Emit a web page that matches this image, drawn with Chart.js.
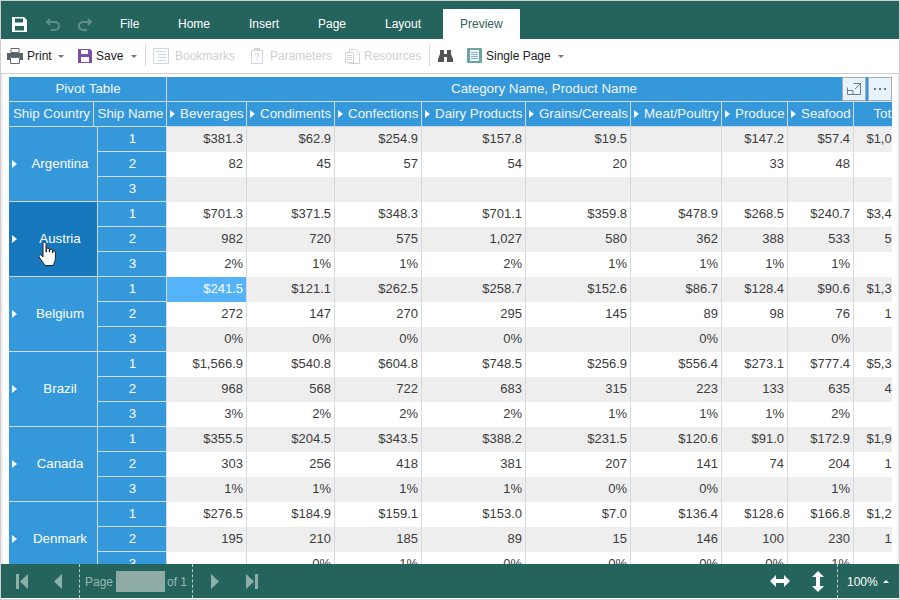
<!DOCTYPE html>
<html>
<head>
<meta charset="utf-8">
<title>Pivot Table Preview</title>
<script src="https://cdn.jsdelivr.net/npm/chart.js@4"></script>
<style>
  html, body { margin: 0; padding: 0; background: #fff; }
  body { width: 900px; height: 600px; position: relative; overflow: hidden; font: 12px "Liberation Sans", Arial, sans-serif; }
  .abs { position: absolute; white-space: nowrap; }
  #frame { left: 0; top: 0; width: 898px; height: 598px; border: 1px solid #cfcfcf; pointer-events: none; z-index: 9; }
  #topbar { left: 0; top: 1px; width: 900px; height: 38px; background: #25645c; }
  #tab { left: 443px; top: 9px; width: 77px; height: 30px; background: #fff; }
  .menu { top: 17px; color: #fff; line-height: 14px; }
  #toolbar { left: 0; top: 39px; width: 900px; height: 34px; background: #fff; border-bottom: 1px solid #cdcdcd; }
  .tool { top: 49px; color: #222; line-height: 14px; }
  .off { color: #d2ced6; }
  .sep { top: 45px; width: 1px; height: 21px; background: #d8d8d8; }
  .strip { top: 74px; height: 490px; width: 2px; background: #eeeeee; }
  #tableBox { left: 9px; top: 77px; width: 883px; height: 487px; overflow: hidden; }
  #pivot { display: block; }
  #pager { left: 0; top: 564px; width: 900px; height: 34px; background: #25645c; z-index: 5; }
  .pg { top: 575px; color: #9cb6b1; line-height: 14px; z-index: 6; }
  .dash { top: 564px; height: 34px; width: 0; border-left: 1px dashed #b5c9c5; z-index: 6; }
  #pageInput { left: 116px; top: 571px; width: 49px; height: 21px; background: #8eaba6; z-index: 6; }
  svg.abs { z-index: 6; overflow: visible; }
  .corner { top: 77px; width: 22px; height: 22px; background: #e8f2fa; border: 1px solid #9fb0bb; z-index: 4; }
</style>
</head>
<body>
<div class="abs" id="topbar"></div>
<div class="abs" id="tab"></div>
<svg class="abs" style="left:12px;top:17px" width="15" height="15" viewBox="0 0 15 15"><path fill="#fff" d="M0 0h12l3 3v12H0z"/><path fill="#25645c" d="M3 1.500h8v4H3zM3 9h9v4.500H3z"/></svg>
<svg class="abs" style="left:45px;top:17px" width="16" height="15" viewBox="0 0 16 15"><path fill="none" stroke="#5f8f88" stroke-width="2" d="M5 2L2 5l3 3M2 5h8a4 4 0 0 1 0 8H6"/></svg>
<svg class="abs" style="left:77px;top:17px" width="16" height="15" viewBox="0 0 16 15"><path fill="none" stroke="#5f8f88" stroke-width="2" d="M11 2l3 3-3 3M14 5H6a4 4 0 0 0 0 8h4"/></svg>
<div class="abs menu" style="left:120px">File</div>
<div class="abs menu" style="left:178px">Home</div>
<div class="abs menu" style="left:249px">Insert</div>
<div class="abs menu" style="left:318px">Page</div>
<div class="abs menu" style="left:385px">Layout</div>
<div class="abs menu" style="left:460px;color:#2f5f5a">Preview</div>

<div class="abs" id="toolbar"></div>
<svg class="abs" style="left:7px;top:48px" width="16" height="16" viewBox="0 0 16 16"><path fill="#fff" stroke="#667" d="M4 .5h8v4H4z"/><path fill="#59636b" d="M0 5h16v7h-3V9H3v3H0z"/><path fill="#fff" stroke="#667" d="M3.500 9.500h9v6h-9z"/></svg>
<div class="abs tool" style="left:27px">Print</div>
<svg class="abs" style="left:58px;top:55px" width="6" height="3"><path fill="#777" d="M0 0h6L3 3z"/></svg>
<svg class="abs" style="left:78px;top:49px" width="14" height="14" viewBox="0 0 14 14"><path fill="#7d4fa6" d="M0 0h12l2 2v12H0z"/><path fill="#fff" d="M3 1h7v4H3zM3 8h8v5H3z"/></svg>
<div class="abs tool" style="left:96px">Save</div>
<svg class="abs" style="left:131px;top:55px" width="6" height="3"><path fill="#777" d="M0 0h6L3 3z"/></svg>
<div class="abs sep" style="left:145px"></div>
<svg class="abs" style="left:153px;top:48px" width="16" height="16" viewBox="0 0 16 16"><path fill="#fff" stroke="#d5d5d8" d="M.5.5h15v15H.5z"/><path stroke="#c9d7e8" d="M3 3.500h10M5 6.500h8M5 9.500h8M5 12.500h8"/></svg>
<div class="abs tool off" style="left:175px">Bookmarks</div>
<svg class="abs" style="left:251px;top:48px" width="12" height="16" viewBox="0 0 12 16"><path fill="#fff" stroke="#d5d5d8" d="M.5 2.500h11v13H.5z"/><path fill="#d5d5d8" d="M3 0h6v3H3z"/><text x="3" y="13" font-size="10" fill="#c9d7e8">?</text></svg>
<div class="abs tool off" style="left:270px">Parameters</div>
<svg class="abs" style="left:345px;top:49px" width="15" height="15" viewBox="0 0 15 15"><path fill="#fff" stroke="#d5d5d8" d="M4.500.5h6l4 4v10h-10z"/><path fill="#fff" stroke="#d5d5d8" d="M.5 3.500h8v10h-8z"/><path stroke="#d5d5d8" d="M2 6.500h5M2 8.500h5M2 10.500h5"/></svg>
<div class="abs tool off" style="left:364px">Resources</div>
<div class="abs sep" style="left:429px"></div>
<svg class="abs" style="left:438px;top:50px" width="15" height="12" viewBox="0 0 15 12"><path fill="#555" d="M2 0h4v4h3V0h4v4l2 5v3H9V7H6v5H0V9l2-5z"/></svg>
<svg class="abs" style="left:467px;top:48px" width="15" height="15" viewBox="0 0 15 15"><path fill="#70a59d" d="M1 0h13a1 1 0 0 1 1 1v13a1 1 0 0 1-1 1H1a1 1 0 0 1-1-1V1a1 1 0 0 1 1-1z"/><path fill="#eef5f6" d="M3 2h9v11H3z"/><path stroke="#8fb4cf" d="M4 4.500h7M4 6.500h7M4 8.500h7M4 10.500h7"/></svg>
<div class="abs tool" style="left:486px">Single Page</div>
<svg class="abs" style="left:558px;top:55px" width="6" height="3"><path fill="#777" d="M0 0h6L3 3z"/></svg>

<div class="abs strip" style="left:1px"></div>
<div class="abs strip" style="left:897px"></div>
<div class="abs" id="tableBox"><canvas id="pivot" width="883" height="500"></canvas></div>

<div class="abs corner" style="left:842px"></div>
<svg class="abs" style="left:847px;top:83px" width="14" height="12" viewBox="0 0 14 12"><path fill="none" stroke="#6d7c86" d="M.5 4.500v7h13v-11h-7M.5 7.500h5.500v4M8 6l5-5M10 .5h3.500V4"/></svg>
<div class="abs corner" style="left:868px"></div>
<svg class="abs" style="left:874px;top:88px" width="12" height="2"><path fill="#6d7c86" d="M0 0h2v2H0zM5 0h2v2H5zM10 0h2v2h-2z"/></svg>

<div class="abs" id="pager"></div>
<svg class="abs" style="left:16px;top:574px" width="12" height="15"><path fill="#8fb0aa" d="M0 0h3v15H0zM12 0v15L4 7.500z"/></svg>
<svg class="abs" style="left:54px;top:574px" width="8" height="15"><path fill="#8fb0aa" d="M8 0v15L0 7.500z"/></svg>
<div class="abs dash" style="left:79px"></div>
<div class="abs pg" style="left:85px">Page</div>
<div class="abs" id="pageInput"></div>
<div class="abs pg" style="left:167px">of 1</div>
<div class="abs dash" style="left:192px"></div>
<svg class="abs" style="left:211px;top:574px" width="8" height="15"><path fill="#8fb0aa" d="M0 0v15l8-7.500z"/></svg>
<svg class="abs" style="left:246px;top:574px" width="12" height="15"><path fill="#8fb0aa" d="M0 0v15l8-7.500zM9 0h3v15H9z"/></svg>
<svg class="abs" style="left:770px;top:574px" width="20" height="14"><path fill="#fff" d="M0 7l6-6v4h8V1l6 6-6 6V9H6v4z"/></svg>
<svg class="abs" style="left:812px;top:571px" width="12" height="21"><path fill="#fff" d="M6 0l6 6H8v9h4l-6 6-6-6h4V6H0z"/></svg>
<div class="abs dash" style="left:837px"></div>
<div class="abs pg" style="left:847px;color:#fff">100%</div>
<svg class="abs" style="left:883px;top:580px" width="6" height="3"><path fill="#fff" d="M3 0l3 3H0z"/></svg>

<svg class="abs" style="left:38px;top:241px;z-index:4" width="20" height="26" viewBox="0 0 20 26"><path fill="#fff" stroke="#222" stroke-width="1" stroke-linejoin="round" d="M5 2.500a1.500 1.500 0 0 1 3 0V11h.5V8.500a1.400 1.400 0 0 1 2.800 0V11h.4V9.500a1.400 1.400 0 0 1 2.800 0V12h.3v-1a1.300 1.300 0 0 1 2.600 0v6c0 4-2 6-2.500 7.500H7C5.500 22 2 18 1 15.500c-.5-1.500 1.500-2.500 2.500-1L5 16z"/></svg>

<div class="abs" id="frame"></div>

<script>
// --- data ---
const countries = ['Argentina', 'Austria', 'Belgium', 'Brazil', 'Canada', 'Denmark'];
const shipNames = ['1', '2', '3'];
const categories = ['Beverages', 'Condiments', 'Confections', 'Dairy Products', 'Grains/Cereals', 'Meat/Poultry', 'Produce', 'Seafood', 'Total'];

// each list runs Argentina 1,2,3 then Austria 1,2,3 ... (1 = money, 2 = count, 3 = percent)
const beverages = [381.3, 82, null, 701.3, 982, 2, 241.5, 272, 0, 1566.9, 968, 3, 355.5, 303, 1, 276.5, 195, null];
const condiments = [62.9, 45, null, 371.5, 720, 1, 121.1, 147, 0, 540.8, 568, 2, 204.5, 256, 1, 184.9, 210, 0];
const confections = [254.9, 57, null, 348.3, 575, 1, 262.5, 270, 0, 604.8, 722, 2, 343.5, 418, 1, 159.1, 185, 1];
const dairyProducts = [157.8, 54, null, 701.1, 1027, 2, 258.7, 295, 0, 748.5, 683, 2, 388.2, 381, 1, 153.0, 89, 0];
const grainsCereals = [19.5, 20, null, 359.8, 580, 1, 152.6, 145, null, 256.9, 315, 1, 231.5, 207, 0, 7.0, 15, 0];
const meatPoultry = [null, null, null, 478.9, 362, 1, 86.7, 89, 0, 556.4, 223, 1, 120.6, 141, 0, 136.4, 146, 0];
const produce = [147.2, 33, null, 268.5, 388, 1, 128.4, 98, null, 273.1, 133, 1, 91.0, 74, null, 128.6, 100, 0];
const seafood = [57.4, 48, null, 240.7, 533, 1, 90.6, 76, 0, 777.4, 635, 2, 172.9, 204, 1, 166.8, 230, 1];
const total = [1081.0, 339, null, 3469.6, 5167, 9, 1342.1, 1392, 3, 5324.8, 4247, 14, 1907.7, 1984, 5, 1212.3, 1170, 3];
const seriesValues = [beverages, condiments, confections, dairyProducts, grainsCereals, meatPoultry, produce, seafood, total];

// --- layout of the grid, in x-scale units ---
const tableLeft = 9;
const tableRight = 892;
const headerSplit = 94;
const bodySplit = 98;
const firstColumn = 167;
const columnEnds = [247, 335, 422, 526, 631, 722, 788, 854, 921];

const BLUE = '#3498db';
const BLUE_DARK = '#1878bd';
const BLUE_LINE = '#cfdce6';
const CELL_LINE = '#d9d9d9';
const STRIPE = '#eeeeee';
const SELECTED = '#55b4f9';
const FONT = '13px "Liberation Sans", Arial, sans-serif';
const HEAD_FONT = '13.33px "Liberation Sans", Arial, sans-serif';

// y axis: two header rows, then three rows per country
const rowLabels = ['Pivot Table', 'Fields'];
countries.forEach(c => shipNames.forEach(s => rowLabels.push(c + ' ' + s)));
const HEAD = 2;

function formatValue(v, row) {
    if (v === null) return '';
    const kind = row % 3;
    if (kind === 0) return '$' + v.toLocaleString('en-US', { minimumFractionDigits: 1, maximumFractionDigits: 1 });
    if (kind === 1) return v.toLocaleString('en-US');
    return v + '%';
}

// one floating bar per cell, only on the rows the column has
function spanOn(rows, from, to) {
    return rowLabels.map((_, i) => rows(i) ? [from, to] : null);
}

const common = { grouped: false, barPercentage: 1, categoryPercentage: 1, inflateAmount: 0, borderSkipped: false };
const datasets = [];

// header cells
datasets.push({ ...common, label: 'Pivot Table', data: spanOn(i => i === 0, tableLeft, firstColumn), backgroundColor: BLUE, borderColor: BLUE_LINE, borderWidth: { right: 1, bottom: 1 } });
datasets.push({ ...common, label: 'Category Name, Product Name', data: spanOn(i => i === 0, firstColumn, columnEnds[8]), backgroundColor: BLUE, borderColor: BLUE_LINE, borderWidth: { bottom: 1 } });
datasets.push({ ...common, label: 'Ship Country', data: spanOn(i => i === 1, tableLeft, headerSplit), backgroundColor: BLUE, borderColor: BLUE_LINE, borderWidth: { right: 1, bottom: 1 } });
datasets.push({ ...common, label: 'Ship Name', data: spanOn(i => i === 1, headerSplit, firstColumn), backgroundColor: BLUE, borderColor: BLUE_LINE, borderWidth: { right: 1, bottom: 1 } });

// row header cells
datasets.push({
    ...common, label: 'countries',
    data: spanOn(i => i >= HEAD, tableLeft, bodySplit),
    backgroundColor: ctx => Math.floor((ctx.dataIndex - HEAD) / 3) === 1 ? BLUE_DARK : BLUE,
    borderColor: BLUE_LINE,
    borderWidth: ctx => ({ right: 1, bottom: (ctx.dataIndex - HEAD) % 3 === 2 ? 1 : 0 })
});
datasets.push({ ...common, label: 'ship names', data: spanOn(i => i >= HEAD, bodySplit, firstColumn), backgroundColor: BLUE, borderColor: BLUE_LINE, borderWidth: { right: 1, bottom: 1 } });

// value columns
categories.forEach((name, c) => {
    const from = c === 0 ? firstColumn : columnEnds[c - 1];
    datasets.push({
        ...common, label: name,
        data: spanOn(i => i >= 1, from, columnEnds[c]),
        backgroundColor: ctx => {
            const i = ctx.dataIndex;
            if (i === 1) return BLUE;
            if (c === 0 && i === HEAD + 6) return SELECTED;
            return (i - HEAD) % 2 === 0 ? STRIPE : '#ffffff';
        },
        borderColor: ctx => ctx.dataIndex === 1 ? BLUE_LINE : CELL_LINE,
        borderWidth: ctx => ({ right: c === 8 ? 0 : 1, bottom: ctx.dataIndex === 1 ? 1 : 0 })
    });
});

// opaque canvas, so the text gets the same rendering as the page text
const pivotCanvas = document.getElementById('pivot');
pivotCanvas.getContext('2d', { alpha: false });

const opaqueBackground = {
    id: 'opaqueBackground',
    beforeDraw(chart) {
        chart.ctx.fillStyle = '#ffffff';
        chart.ctx.fillRect(0, 0, chart.width, chart.height);
    }
};

// cell texts, placed through the chart's scales
const cellText = {
    id: 'cellText',
    afterDatasetsDraw(chart) {
        const { ctx, chartArea, scales: { x, y } } = chart;
        const mid = (a, b) => (x.getPixelForValue(a) + x.getPixelForValue(b)) / 2;
        const rowY = i => y.getPixelForValue(i) - 0.5;

        const arrow = (left, cy) => {
            ctx.fillStyle = '#f2f8fd';
            ctx.beginPath();
            ctx.moveTo(left, cy - 4);
            ctx.lineTo(left + 5, cy);
            ctx.lineTo(left, cy + 4);
            ctx.closePath();
            ctx.fill();
        };
        const put = (text, px, py, align, color) => {
            ctx.textAlign = align;
            ctx.fillStyle = color;
            ctx.fillText(text, px, py);
        };

        ctx.save();
        ctx.beginPath();
        ctx.rect(chartArea.left, chartArea.top, chartArea.width, chartArea.height);
        ctx.clip();
        ctx.textBaseline = 'middle';

        const headColor = '#f0f7fc';
        ctx.font = HEAD_FONT;
        put('Pivot Table', mid(tableLeft, firstColumn), rowY(0), 'center', headColor);
        put('Category Name, Product Name', mid(firstColumn, columnEnds[8]), rowY(0), 'center', headColor);
        put('Ship Country', mid(tableLeft, headerSplit), rowY(1), 'center', headColor);
        put('Ship Name', mid(headerSplit, firstColumn), rowY(1), 'center', headColor);

        categories.forEach((name, c) => {
            const from = c === 0 ? firstColumn : columnEnds[c - 1];
            ctx.font = HEAD_FONT;
            if (c === 8) {
                put(name, mid(from, columnEnds[c]), rowY(1), 'center', headColor);
            } else {
                arrow(x.getPixelForValue(from) + 3, rowY(1));
                put(name, x.getPixelForValue(from + 13), rowY(1), 'left', headColor);
            }
            ctx.font = FONT;
            seriesValues[c].forEach((v, r) => {
                const selected = c === 0 && r === 6;
                put(formatValue(v, r), x.getPixelForValue(columnEnds[c] - 4), rowY(HEAD + r), 'right', selected ? '#ffffff' : '#3c3c3c');
            });
        });

        countries.forEach((name, k) => {
            const midRow = HEAD + k * 3 + 1;
            arrow(x.getPixelForValue(tableLeft + 3), rowY(midRow));
            ctx.font = HEAD_FONT;
            put(name, x.getPixelForValue(60), rowY(midRow), 'center', '#ffffff');
            shipNames.forEach((s, j) => put(s, mid(bodySplit, firstColumn), rowY(HEAD + k * 3 + j), 'center', '#ffffff'));
        });
        ctx.restore();
    }
};

new Chart(pivotCanvas, {
    type: 'bar',
    data: { labels: rowLabels, datasets: datasets },
    plugins: [opaqueBackground, cellText],
    options: {
        indexAxis: 'y',
        responsive: false,
        animation: false,
        events: [],
        layout: { padding: 0 },
        plugins: { legend: { display: false }, tooltip: { enabled: false } },
        scales: {
            x: { type: 'linear', min: tableLeft, max: tableRight, display: false },
            y: { type: 'category', display: false }
        }
    }
});
</script>
</body>
</html>
